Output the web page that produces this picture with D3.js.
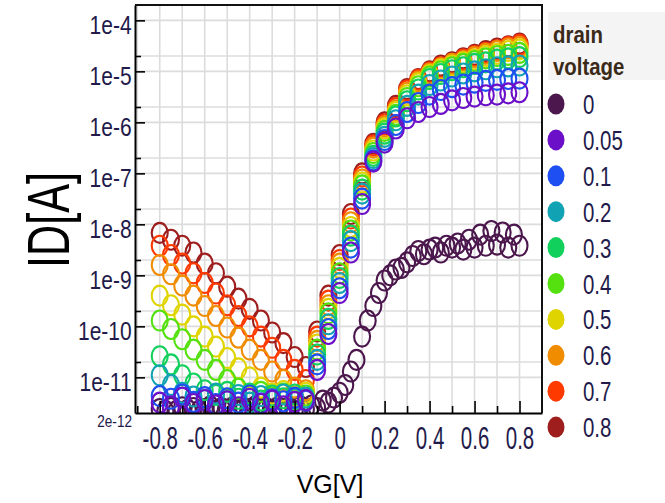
<!DOCTYPE html>
<html lang="en">
<head>
    <meta charset="UTF-8">
    <title>ID - VG</title>
    <script src="https://d3js.org/d3.v7.min.js"></script>
    <style>
        body { margin: 0; background: #fff; }
        text { font-family: "Liberation Sans", Arial, sans-serif; }
    </style>
</head>
<body>
    <div id="chart"></div>
    <script>
        // gate voltage sweep (V)
        const vg = [-0.8,-0.75,-0.7,-0.65,-0.6,-0.55,-0.5,-0.45,-0.4,-0.35,-0.3,-0.25,-0.2,-0.15,-0.1,-0.05,
                    0,0.05,0.1,0.15,0.2,0.25,0.3,0.35,0.4,0.45,0.5,0.55,0.6,0.65,0.7,0.75,0.8];
        // the VD = 0 trace was taken on a finer grid
        const vgFine = [-0.8,-0.775,-0.75,-0.725,-0.7,-0.675,-0.65,-0.625,-0.6,-0.575,-0.55,-0.525,-0.5,-0.475,
                        -0.45,-0.425,-0.4,-0.375,-0.35,-0.325,-0.3,-0.275,-0.25,-0.225,-0.2,-0.175,-0.15,-0.125,
                        -0.1,-0.075,-0.05,-0.025,0,0.025,0.05,0.075,0.1,0.125,0.15,0.175,0.2,0.225,0.25,0.275,
                        0.3,0.325,0.35,0.375,0.4,0.425,0.45,0.475,0.5,0.525,0.55,0.575,0.6,0.625,0.65,0.675,
                        0.7,0.725,0.75,0.775,0.8];

        const drainVoltages = ["0", "0.05", "0.1", "0.2", "0.3", "0.4", "0.5", "0.6", "0.7", "0.8"];
        const colors = ["#4b174d", "#6b10c8", "#1e4ff2", "#11a3b4", "#12d05c", "#55e010",
                        "#e0d400", "#f08c00", "#ff3a00", "#9e1e1e"];

        // drain current ID (A)
        const id0 = [2.4e-12,2.2e-12,2.5e-12,2.2e-12,2.6e-12,2.3e-12,2.5e-12,2.2e-12,2.4e-12,2.7e-12,2.2e-12,2.5e-12,
                     2.3e-12,2.6e-12,2.2e-12,2.5e-12,2.4e-12,2.7e-12,2.3e-12,2.5e-12,2.2e-12,2.6e-12,2.4e-12,2.5e-12,
                     2.2e-12,2.7e-12,2.4e-12,2.8e-12,2.5e-12,3.5e-12,3.2e-12,4.0e-12,5.0e-12,7.1e-12,1.3e-11,2.2e-11,
                     6.3e-11,1.3e-10,2.5e-10,4.5e-10,7.9e-10,1.0e-9,1.3e-9,1.4e-9,1.8e-9,2.4e-9,3.0e-9,2.6e-9,
                     3.2e-9,3.5e-9,2.8e-9,3.8e-9,3.5e-9,4.2e-9,3.2e-9,5.0e-9,3.5e-9,6.3e-9,3.8e-9,7.4e-9,
                     4.0e-9,6.9e-9,3.5e-9,6.3e-9,3.8e-9];
        const id005 = [3.2e-12,2.7e-12,4.0e-12,3.0e-12,3.6e-12,2.8e-12,3.4e-12,2.6e-12,3.8e-12,3.0e-12,3.5e-12,2.7e-12,3.3e-12,3.6e-12,
                       1.4e-11,7.1e-11,4.5e-10,2.8e-9,2.5e-8,1.7e-7,4.0e-7,7.6e-7,1.2e-6,1.6e-6,2.0e-6,2.3e-6,2.7e-6,3.0e-6,
                       3.2e-6,3.4e-6,3.5e-6,3.7e-6,3.9e-6];
        const id01 = [4.3e-12,3.8e-12,4.6e-12,3.3e-12,4.1e-12,3.0e-12,3.9e-12,3.2e-12,4.4e-12,3.1e-12,3.7e-12,3.4e-12,4.0e-12,3.5e-12,
                      1.8e-11,8.9e-11,5.6e-10,3.5e-9,3.2e-8,1.8e-7,4.5e-7,8.9e-7,1.6e-6,2.4e-6,3.5e-6,4.3e-6,4.9e-6,5.5e-6,
                      6.0e-6,6.5e-6,6.8e-6,7.1e-6,7.2e-6];
        const id02 = [1.1e-11,7.1e-12,5.0e-12,4.2e-12,3.6e-12,4.8e-12,3.4e-12,4.5e-12,3.2e-12,4.3e-12,3.5e-12,4.6e-12,3.8e-12,4.0e-12,
                      2.2e-11,1.1e-10,7.1e-10,4.7e-9,4.0e-8,2.0e-7,5.2e-7,1.1e-6,2.1e-6,3.5e-6,5.4e-6,6.6e-6,7.9e-6,9.1e-6,
                      1.0e-5,1.1e-5,1.2e-5,1.25e-5,1.3e-5];
        const id03 = [2.6e-11,1.8e-11,1.1e-11,7.6e-12,5.6e-12,4.5e-12,5.2e-12,3.8e-12,4.8e-12,3.5e-12,4.4e-12,3.9e-12,4.6e-12,3.6e-12,
                      2.8e-11,1.4e-10,8.9e-10,6.0e-9,4.8e-8,2.2e-7,6.0e-7,1.3e-6,2.6e-6,4.4e-6,7.1e-6,8.9e-6,1.05e-5,1.2e-5,
                      1.4e-5,1.5e-5,1.7e-5,1.8e-5,1.9e-5];
        const id04 = [1.3e-10,8.9e-11,5.6e-11,3.5e-11,2.2e-11,1.4e-11,8.9e-12,6.0e-12,4.6e-12,5.2e-12,4.0e-12,4.8e-12,3.7e-12,4.4e-12,
                      3.5e-11,1.8e-10,1.1e-9,7.6e-9,5.8e-8,2.5e-7,6.8e-7,1.4e-6,3.0e-6,5.1e-6,7.9e-6,1.0e-5,1.2e-5,1.4e-5,
                      1.6e-5,1.8e-5,2.0e-5,2.1e-5,2.3e-5];
        const id05 = [4.0e-10,2.6e-10,1.7e-10,1.0e-10,6.3e-11,4.0e-11,2.4e-11,1.5e-11,1.0e-11,6.3e-12,4.8e-12,5.4e-12,4.2e-12,5.0e-12,
                      4.4e-11,2.2e-10,1.4e-9,8.9e-9,6.6e-8,2.8e-7,7.6e-7,1.6e-6,3.4e-6,5.8e-6,8.5e-6,1.1e-5,1.3e-5,1.5e-5,
                      1.7e-5,2.0e-5,2.2e-5,2.5e-5,2.7e-5];
        const id06 = [1.6e-9,1.05e-9,6.3e-10,4.0e-10,2.5e-10,1.6e-10,9.5e-11,6.0e-11,3.5e-11,2.2e-11,1.3e-11,8.9e-12,6.3e-12,5.6e-12,
                      5.2e-11,2.6e-10,1.7e-9,1.1e-8,7.6e-8,3.2e-7,8.3e-7,1.7e-6,3.8e-6,6.3e-6,9.1e-6,1.15e-5,1.4e-5,1.6e-5,
                      1.9e-5,2.2e-5,2.5e-5,2.8e-5,3.0e-5];
        const id07 = [3.8e-9,2.5e-9,1.7e-9,1.1e-9,7.1e-10,4.4e-10,2.6e-10,1.6e-10,1.0e-10,6.3e-11,3.8e-11,2.2e-11,1.4e-11,8.9e-12,
                      6.3e-11,3.2e-10,2.0e-9,1.3e-8,8.7e-8,3.5e-7,9.1e-7,1.9e-6,4.2e-6,6.8e-6,9.5e-6,1.2e-5,1.4e-5,1.7e-5,
                      2.0e-5,2.3e-5,2.6e-5,3.0e-5,3.3e-5];
        const id08 = [6.8e-9,5.0e-9,3.8e-9,2.8e-9,1.7e-9,1.1e-9,6.0e-10,3.5e-10,2.2e-10,1.3e-10,7.6e-11,4.7e-11,2.5e-11,1.6e-11,
                      7.9e-11,4.0e-10,2.5e-9,1.6e-8,1.0e-7,3.8e-7,1.0e-6,2.1e-6,4.5e-6,7.1e-6,1.0e-5,1.3e-5,1.5e-5,1.8e-5,
                      2.1e-5,2.5e-5,2.8e-5,3.1e-5,3.5e-5];

        // axis ticks
        const yMajor = [1e-11, 1e-10, 1e-9, 1e-8, 1e-7, 1e-6, 1e-5, 1e-4];
        const yTickLabels = ["1e-11", "1e-10", "1e-9", "1e-8", "1e-7", "1e-6", "1e-5", "1e-4"];
        const xMajor = [-0.8, -0.6, -0.4, -0.2, 0, 0.2, 0.4, 0.6, 0.8];
        const xTickLabels = ["-0.8", "-0.6", "-0.4", "-0.2", "0", "0.2", "0.4", "0.6", "0.8"];
        const xMinor = [-0.9, -0.7, -0.5, -0.3, -0.1, 0.1, 0.3, 0.5, 0.7];

        const idSeries = [id0, id005, id01, id02, id03, id04, id05, id06, id07, id08];
        const series = drainVoltages.map((vd, i) => ({
            vd: vd,
            color: colors[i],
            points: (i === 0 ? vgFine : vg).map((v, k) => ({ vg: v, id: idSeries[i][k] }))
        }));

        const width = 665;
        const height = 503;
        const plot = { left: 135, right: 542, top: 5, bottom: 413 };
        const labelColor = "#221a4a";

        const x = d3.scaleLinear().domain([-0.91, 0.9]).range([plot.left, plot.right]);
        const y = d3.scaleLog().domain([2e-12, 2e-4]).range([plot.bottom, plot.top]);

        const svg = d3.select("#chart")
            .append("svg")
            .attr("width", width)
            .attr("height", height);

        svg.append("clipPath").attr("id", "plot-clip")
            .append("rect")
            .attr("x", plot.left).attr("y", plot.top)
            .attr("width", plot.right - plot.left).attr("height", plot.bottom - plot.top);

        // grid
        const grid = svg.append("g").attr("stroke", "#dcdcdc").attr("stroke-width", 1.6);
        grid.selectAll(".vgrid")
            .data(x.ticks(20))
            .enter().append("line")
            .attr("x1", d => x(d)).attr("x2", d => x(d))
            .attr("y1", plot.top).attr("y2", plot.bottom);
        grid.selectAll(".hgrid")
            .data(yMajor.flatMap(d => [d, 2 * d]).filter(d => d < 2e-4))
            .enter().append("line")
            .attr("x1", plot.left).attr("x2", plot.right)
            .attr("y1", d => y(d)).attr("y2", d => y(d));

        // markers: VD = 0 underneath, then 0.8 down to 0.05 so the low drain voltages sit on top
        const drawOrder = [0, 9, 8, 7, 6, 5, 4, 3, 2, 1];
        const marks = svg.append("g").attr("clip-path", "url(#plot-clip)");
        drawOrder.forEach(i => {
            marks.selectAll(`.s-${i}`)
                .data(series[i].points)
                .enter()
                .append("ellipse")
                .attr("cx", d => x(d.vg))
                .attr("cy", d => y(d.id))
                .attr("rx", 8)
                .attr("ry", 10)
                .attr("fill", "none")
                .attr("stroke", series[i].color)
                .attr("stroke-width", 2.1);
        });

        // y axis
        const yAxisG = svg.append("g").attr("transform", `translate(${plot.left},0)`);
        yAxisG.call(d3.axisLeft(y).tickValues(yMajor).tickFormat((d, i) => yTickLabels[i])
            .tickSizeInner(-10).tickSizeOuter(0).tickPadding(4));
        yAxisG.selectAll("text")
            .attr("dy", null).attr("y", 13)
            .attr("transform", "scale(0.84,1)")
            .attr("font-size", 25)
            .attr("font-family", "Liberation Sans, Arial, sans-serif")
            .attr("fill", labelColor);
        yAxisG.select(".domain").attr("stroke-width", 2);
        yAxisG.selectAll(".tick line").attr("stroke-width", 1.6);

        const yMinorG = svg.append("g").attr("transform", `translate(${plot.left},0)`);
        yMinorG.call(d3.axisLeft(y).tickValues(yMajor.map(d => 2 * d).filter(d => d < 2e-4))
            .tickFormat("").tickSizeInner(-6).tickSizeOuter(0));
        yMinorG.select(".domain").remove();
        yMinorG.selectAll(".tick line").attr("stroke-width", 1.6);

        // x axis
        const xAxisG = svg.append("g").attr("transform", `translate(0,${plot.bottom})`);
        xAxisG.call(d3.axisBottom(x).tickValues(xMajor).tickFormat((d, i) => xTickLabels[i])
            .tickSizeInner(-12).tickSizeOuter(0));
        xAxisG.selectAll("text")
            .attr("dy", null).attr("y", 36)
            .attr("transform", "scale(0.66,1)")
            .attr("font-size", 31)
            .attr("font-family", "Liberation Sans, Arial, sans-serif")
            .attr("fill", labelColor);
        xAxisG.select(".domain").attr("stroke-width", 2);
        xAxisG.selectAll(".tick line").attr("stroke-width", 1.6);

        const xMinorG = svg.append("g").attr("transform", `translate(0,${plot.bottom})`);
        xMinorG.call(d3.axisBottom(x).tickValues(xMinor).tickFormat("").tickSizeInner(-7).tickSizeOuter(0));
        xMinorG.select(".domain").remove();
        xMinorG.selectAll(".tick line").attr("stroke-width", 1.6);

        // frame top / right
        svg.append("path")
            .attr("d", `M${plot.left},${plot.top}H${plot.right}V${plot.bottom}`)
            .attr("fill", "none")
            .attr("stroke", "#111")
            .attr("stroke-width", 2);

        // bottom limit label
        svg.append("text")
            .attr("transform", `translate(${plot.left - 3},${plot.bottom + 14}) scale(0.85,1)`)
            .attr("text-anchor", "end")
            .attr("font-size", 16)
            .attr("fill", labelColor)
            .text("2e-12");

        // axis titles
        svg.append("text")
            .attr("transform", "translate(69,220) rotate(-90) scale(0.72,1)")
            .attr("text-anchor", "middle")
            .attr("font-family", "DejaVu Sans, sans-serif")
            .attr("font-size", 60)
            .attr("fill", "#000")
            .text("ID[A]");

        svg.append("text")
            .attr("x", 330)
            .attr("y", 493)
            .attr("text-anchor", "middle")
            .attr("font-family", "DejaVu Sans, sans-serif")
            .attr("font-size", 25)
            .attr("fill", "#000")
            .text("VG[V]");

        // legend
        const legend = svg.append("g");
        legend.append("rect")
            .attr("x", 548).attr("y", 12)
            .attr("width", 117).attr("height", 68)
            .attr("fill", "#f4f4f4");
        ["drain", "voltage"].forEach((t, i) => {
            legend.append("text")
                .attr("transform", `translate(553,${43 + i * 32}) scale(0.85,1)`)
                .attr("font-size", 24)
                .attr("font-weight", "bold")
                .attr("fill", "#3a2a1a")
                .text(t);
        });
        series.forEach((s, i) => {
            const cy = 104 + i * 35.9;
            legend.append("ellipse")
                .attr("cx", 556).attr("cy", cy)
                .attr("rx", 8.5).attr("ry", 10.5)
                .attr("fill", s.color);
            legend.append("text")
                .attr("transform", `translate(583,${cy + 10}) scale(0.73,1)`)
                .attr("font-size", 28)
                .attr("fill", labelColor)
                .text(s.vd);
        });
    </script>
</body>
</html>
